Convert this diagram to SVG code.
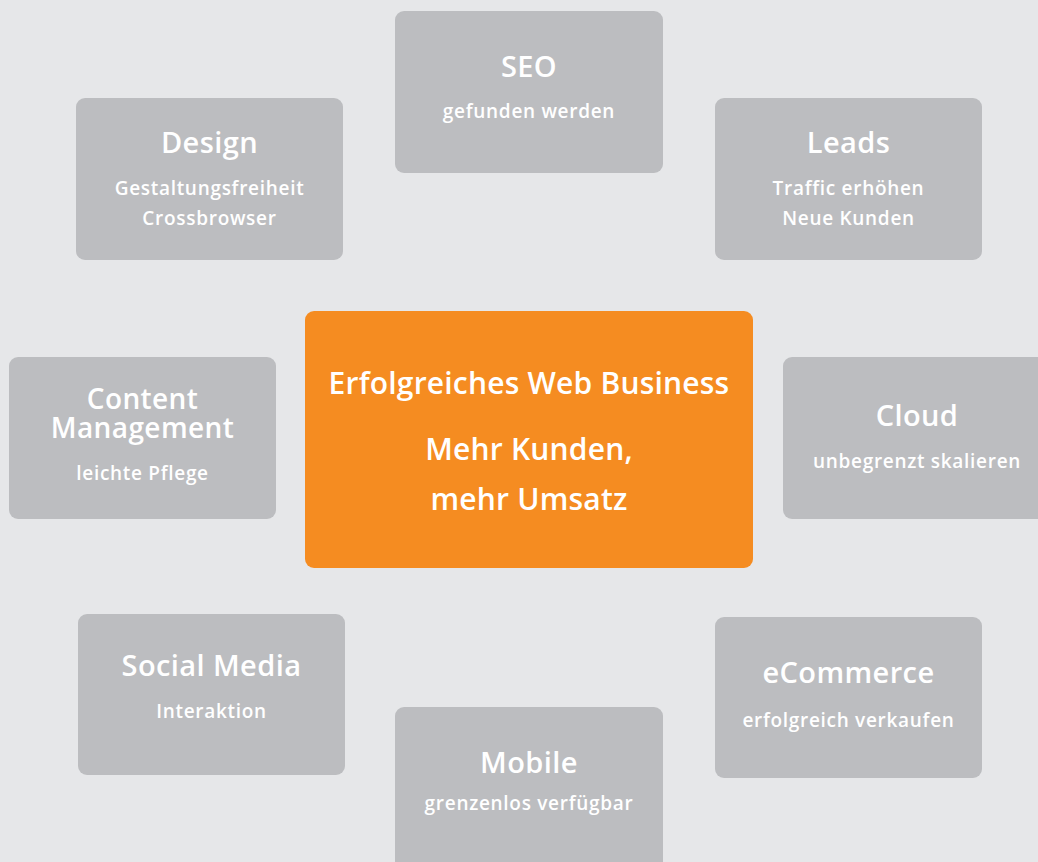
<svg xmlns="http://www.w3.org/2000/svg" width="1038" height="862" viewBox="0 0 1038 862">
<style>
.box{fill:#bcbdc0}
.center{fill:#f58c21}
text{font-family:"Open Sans","DejaVu Sans",sans-serif;fill:#ffffff;text-anchor:middle;font-weight:600}
.t{font-size:29px;letter-spacing:0.4px}
.tc{font-size:28px;letter-spacing:0.4px}
.s{font-size:19px;letter-spacing:0.7px}
.c{font-size:30px;letter-spacing:0.2px}
</style>
<rect x="0" y="0" width="1038" height="862" fill="#e6e7e9"/>
<g id="connectors"></g>
<g id="seo"><rect class="box" x="395" y="11" width="268" height="162" rx="9"/><text class="t" x="529" y="77">SEO</text><text class="s" x="529" y="118">gefunden werden</text></g>
<g id="design"><rect class="box" x="76" y="98" width="267" height="162" rx="9"/><text class="t" x="209.5" y="153">Design</text><text class="s" x="209.5" y="195">Gestaltungsfreiheit</text><text class="s" x="209.5" y="225">Crossbrowser</text></g>
<g id="leads"><rect class="box" x="715" y="98" width="267" height="162" rx="9"/><text class="t" x="848.5" y="153">Leads</text><text class="s" x="848.5" y="195">Traffic erhöhen</text><text class="s" x="848.5" y="225">Neue Kunden</text></g>
<g id="content"><rect class="box" x="9" y="357" width="267" height="162" rx="9"/><text class="tc" x="142.5" y="409">Content</text><text class="tc" x="142.5" y="438">Management</text><text class="s" x="142.5" y="480">leichte Pflege</text></g>
<g id="cloud"><rect class="box" x="783" y="357" width="268" height="162" rx="9"/><text class="t" x="917" y="426">Cloud</text><text class="s" x="917" y="468">unbegrenzt skalieren</text></g>
<g id="business"><rect class="center" x="305" y="311" width="448" height="257" rx="9"/><text class="c" x="529" y="394">Erfolgreiches Web Business</text><text class="c" x="529" y="460">Mehr Kunden,</text><text class="c" x="529" y="510">mehr Umsatz</text></g>
<g id="social"><rect class="box" x="78" y="614" width="267" height="161" rx="9"/><text class="t" x="211.5" y="676">Social Media</text><text class="s" x="211.5" y="718">Interaktion</text></g>
<g id="ecommerce"><rect class="box" x="715" y="617" width="267" height="161" rx="9"/><text class="t" x="848.5" y="683">eCommerce</text><text class="s" x="848.5" y="727">erfolgreich verkaufen</text></g>
<g id="mobile"><rect class="box" x="395" y="707" width="268" height="170" rx="9"/><text class="t" x="529" y="773">Mobile</text><text class="s" x="529" y="810">grenzenlos verfügbar</text></g>
</svg>
